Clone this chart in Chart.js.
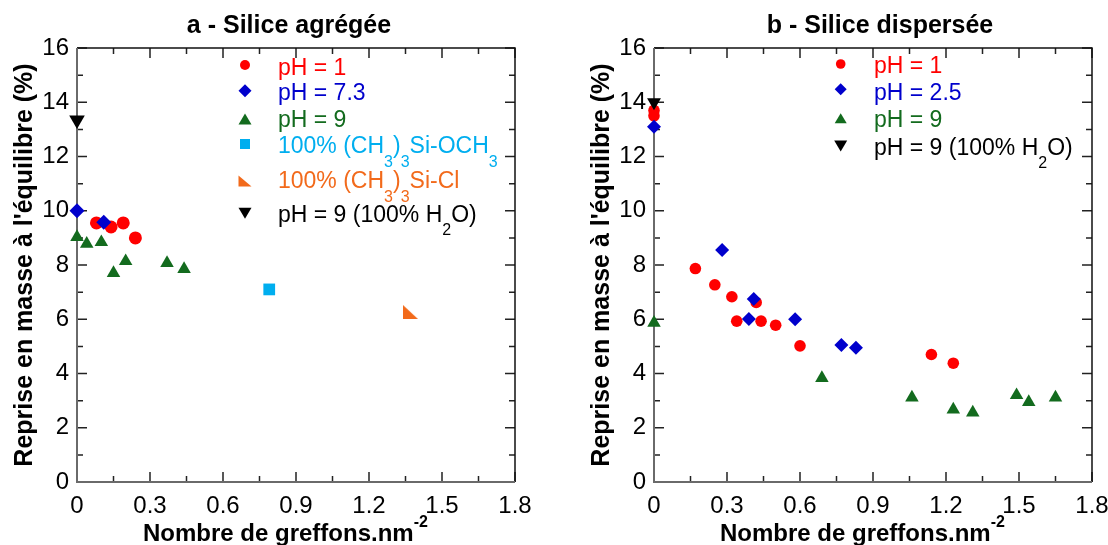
<!DOCTYPE html>
<html>
<head>
    <title>Reprise en masse</title>
    <script src="https://cdn.jsdelivr.net/npm/chart.js"></script>
    <style>
        body { margin: 0; background: #fff; }
        .wrap { position: relative; width: 1108px; height: 545px; overflow: hidden; }
        #chartA { position: absolute; left: 0; top: 0; }
        #chartB { position: absolute; left: 560px; top: 0; }
    </style>
</head>
<body>
    <div class="wrap">
        <canvas id="chartA" width="560" height="545"></canvas>
        <canvas id="chartB" width="548" height="545"></canvas>
    </div>

    <script>
        // a - Silice agrégée
        const aPh1X = [0.08, 0.14, 0.19, 0.24];
        const aPh1Y = [9.55, 9.4, 9.55, 9.0];
        const aPh73X = [0, 0.11];
        const aPh73Y = [10.0, 9.58];
        const aPh9X = [0, 0.04, 0.10, 0.15, 0.20, 0.37, 0.44];
        const aPh9Y = [9.03, 8.78, 8.84, 7.7, 8.14, 8.07, 7.85];
        const aOch3X = [0.79];
        const aOch3Y = [7.1];
        const aClX = [1.37];
        const aClY = [6.27];
        const aH2oX = [0];
        const aH2oY = [13.35];

        // b - Silice dispersée
        const bPh1X = [0, 0, 0.17, 0.25, 0.32, 0.34, 0.42, 0.44, 0.50, 0.60, 1.14, 1.23];
        const bPh1Y = [13.7, 13.5, 7.87, 7.27, 6.83, 5.93, 6.62, 5.93, 5.78, 5.02, 4.70, 4.38];
        const bPh25X = [0, 0.28, 0.39, 0.41, 0.58, 0.77, 0.83];
        const bPh25Y = [13.1, 8.55, 6.01, 6.75, 6.0, 5.05, 4.95];
        const bPh9X = [0, 0.69, 1.06, 1.23, 1.31, 1.49, 1.54, 1.65];
        const bPh9Y = [5.87, 3.83, 3.11, 2.67, 2.56, 3.20, 2.95, 3.11];
        const bH2oX = [0];
        const bH2oY = [14.0];

        // axes
        const xTicks = [0, 0.3, 0.6, 0.9, 1.2, 1.5, 1.8];
        const yTicks = [0, 2, 4, 6, 8, 10, 12, 14, 16];

        const RED = '#ff0000', BLUE = '#0000cc', GREEN = '#136b1e';
        const CYAN = '#00aeef', ORANGE = '#f26a1b', BLACK = '#000000';
        const FONT = '"Liberation Sans", Arial, sans-serif';

        function pts(xs, ys) {
            return xs.map((x, i) => ({ x: x, y: ys[i] }));
        }

        // the ◣ marker, chart.js has no such style
        function cornerMarker(w, h, color) {
            const c = document.createElement('canvas');
            c.width = w; c.height = h;
            const g = c.getContext('2d');
            g.fillStyle = color;
            g.beginPath();
            g.moveTo(0, 0); g.lineTo(0, h); g.lineTo(w, h);
            g.closePath(); g.fill();
            return c;
        }

        function ds(label, data, color, style, radius, order, rotation) {
            return {
                label: label,
                data: data,
                pointStyle: style,
                pointRadius: radius,
                pointRotation: rotation || 0,
                pointBackgroundColor: color,
                pointBorderColor: color,
                pointBorderWidth: 0,
                showLine: false,
                clip: false,
                order: order
            };
        }

        function marker(ctx, kind, x, y, s, color) {
            ctx.fillStyle = color;
            ctx.beginPath();
            if (kind === 'circle') {
                ctx.arc(x, y, s, 0, Math.PI * 2);
            } else if (kind === 'diamond') {
                ctx.moveTo(x, y - s); ctx.lineTo(x + s, y); ctx.lineTo(x, y + s); ctx.lineTo(x - s, y);
            } else if (kind === 'up') {
                ctx.moveTo(x, y - s * 0.42); ctx.lineTo(x + s / 2, y + s * 0.42); ctx.lineTo(x - s / 2, y + s * 0.42);
            } else if (kind === 'down') {
                ctx.moveTo(x, y + s * 0.42); ctx.lineTo(x + s / 2, y - s * 0.42); ctx.lineTo(x - s / 2, y - s * 0.42);
            } else if (kind === 'square') {
                ctx.rect(x - s / 2, y - s / 2, s, s);
            } else if (kind === 'corner') {
                ctx.moveTo(x - s / 2, y - s * 0.42); ctx.lineTo(x - s / 2, y + s * 0.42); ctx.lineTo(x + s / 2, y + s * 0.42);
            }
            ctx.closePath();
            ctx.fill();
        }

        // text with sub / superscript parts
        function richText(ctx, parts, x, y, size, bold, color) {
            ctx.fillStyle = color;
            ctx.textAlign = 'left';
            ctx.textBaseline = 'alphabetic';
            let cx = x;
            parts.forEach(p => {
                const small = p.sub || p.sup;
                const fs = small ? Math.round(size * 0.68) : size;
                ctx.font = (bold ? 'bold ' : '') + fs + 'px ' + FONT;
                const dy = p.sub ? size * 0.58 : (p.sup ? -size * 0.58 : 0);
                ctx.fillText(p.t, cx, y + dy);
                cx += ctx.measureText(p.t).width;
            });
        }

        function makeDeco(cfg) {
            return {
                id: 'deco',
                beforeDatasetsDraw(chart) {
                    const ctx = chart.ctx, a = chart.chartArea;
                    const xs = chart.scales.x, ys = chart.scales.y;
                    ctx.save();
                    ctx.strokeStyle = '#222';
                    ctx.lineWidth = 1.5;
                    ctx.beginPath();
                    for (let v = 0; v <= 16; v++) {
                        const py = ys.getPixelForValue(v);
                        const len = v % 2 === 0 ? 10 : 6;
                        ctx.moveTo(a.left, py); ctx.lineTo(a.left + len, py);
                        ctx.moveTo(a.right, py); ctx.lineTo(a.right - len, py);
                    }
                    for (let i = 0; i <= 12; i++) {
                        const px = xs.getPixelForValue(i * 0.15);
                        const len = i % 2 === 0 ? 10 : 6;
                        ctx.moveTo(px, a.bottom); ctx.lineTo(px, a.bottom - len);
                        ctx.moveTo(px, a.top); ctx.lineTo(px, a.top + len);
                    }
                    ctx.stroke();
                    // frame
                    ctx.beginPath();
                    ctx.strokeStyle = '#111';
                    ctx.moveTo(a.left, a.top); ctx.lineTo(a.right, a.top); ctx.lineTo(a.right, a.bottom);
                    ctx.stroke();
                    ctx.beginPath();
                    ctx.strokeStyle = '#6a6a6a';
                    ctx.lineWidth = 2;
                    ctx.moveTo(a.left, a.top); ctx.lineTo(a.left, a.bottom); ctx.lineTo(a.right, a.bottom);
                    ctx.stroke();
                    ctx.restore();
                },
                afterDraw(chart) {
                    const ctx = chart.ctx, a = chart.chartArea;
                    ctx.save();
                    // title
                    ctx.fillStyle = '#000';
                    ctx.font = 'bold 25px ' + FONT;
                    ctx.textAlign = 'center';
                    ctx.textBaseline = 'alphabetic';
                    ctx.fillText(cfg.title, cfg.titleX, 33);
                    // y title
                    ctx.save();
                    ctx.translate(cfg.yTitleX, (a.top + a.bottom) / 2);
                    ctx.rotate(-Math.PI / 2);
                    ctx.textBaseline = 'middle';
                    ctx.fillText("Reprise en masse à l'équilibre (%)", 0, 0);
                    ctx.restore();
                    // x title
                    richText(ctx, [{ t: 'Nombre de greffons.nm' }, { t: '-2', sup: true }],
                        a.left + 66, 541, 24, true, '#000');
                    // legend
                    cfg.legend.forEach(r => {
                        marker(ctx, r.kind, cfg.markerX, r.my, r.ms, r.color);
                        richText(ctx, r.text, cfg.textX, r.base, 23, false, r.color);
                    });
                    ctx.restore();
                }
            };
        }

        function baseOptions(yWidth, padRight) {
            return {
                responsive: false,
                animation: false,
                devicePixelRatio: 1,
                events: [],
                layout: { padding: { top: 48, right: padRight, left: 0, bottom: 0 } },
                plugins: { legend: { display: false }, tooltip: { enabled: false }, title: { display: false } },
                scales: {
                    x: {
                        type: 'linear', min: 0, max: 1.8,
                        afterBuildTicks: s => { s.ticks = xTicks.map(v => ({ value: v })); },
                        afterFit: s => { s.height = 63; s.paddingLeft = 0; s.paddingRight = 0; },
                        grid: { display: false, drawTicks: false },
                        border: { display: false },
                        ticks: {
                            padding: 10, color: '#000', maxRotation: 0, autoSkip: false,
                            font: { family: FONT, size: 24 },
                            callback: v => v === 0 ? '0' : v.toFixed(1)
                        }
                    },
                    y: {
                        type: 'linear', min: 0, max: 16,
                        afterBuildTicks: s => { s.ticks = yTicks.map(v => ({ value: v })); },
                        afterFit: s => { s.width = yWidth; s.paddingTop = 0; s.paddingBottom = 0; },
                        grid: { display: false, drawTicks: false },
                        border: { display: false },
                        ticks: {
                            padding: 8, color: '#000', autoSkip: false,
                            font: { family: FONT, size: 24 },
                            callback: v => String(v)
                        }
                    }
                }
            };
        }

        const sub3 = { t: '3', sub: true };

        new Chart(document.getElementById('chartA'), {
            type: 'scatter',
            data: {
                datasets: [
                    ds('pH = 1', pts(aPh1X, aPh1Y), RED, 'circle', 6.5, 6),
                    ds('pH = 7.3', pts(aPh73X, aPh73Y), BLUE, 'rectRot', 7.5, 5),
                    ds('pH = 9', pts(aPh9X, aPh9Y), GREEN, 'triangle', 7.8, 4),
                    ds('100% (CH3)3Si-OCH3', pts(aOch3X, aOch3Y), CYAN, 'rect', 8.3, 3),
                    ds('100% (CH3)3Si-Cl', pts(aClX, aClY), ORANGE, cornerMarker(15, 14, ORANGE), 7, 2),
                    ds('pH = 9 (100% H2O)', pts(aH2oX, aH2oY), BLACK, 'triangle', 9, 1, 180)
                ]
            },
            options: baseOptions(77, 45),
            plugins: [makeDeco({
                title: 'a - Silice agrégée', titleX: 289, yTitleX: 25,
                markerX: 245, textX: 278,
                legend: [
                    { kind: 'circle', my: 65, ms: 5, color: RED, base: 74.5, text: [{ t: 'pH = 1' }] },
                    { kind: 'diamond', my: 90.7, ms: 6.5, color: BLUE, base: 100, text: [{ t: 'pH = 7.3' }] },
                    { kind: 'up', my: 119, ms: 13, color: GREEN, base: 127.3, text: [{ t: 'pH = 9' }] },
                    { kind: 'square', my: 144, ms: 10, color: CYAN, base: 153.3,
                      text: [{ t: '100% (CH' }, sub3, { t: ')' }, sub3, { t: 'Si-OCH' }, sub3] },
                    { kind: 'corner', my: 181, ms: 13, color: ORANGE, base: 188.3,
                      text: [{ t: '100% (CH' }, sub3, { t: ')' }, sub3, { t: 'Si-Cl' }] },
                    { kind: 'down', my: 213.3, ms: 13, color: BLACK, base: 221.5,
                      text: [{ t: 'pH = 9 (100% H' }, { t: '2', sub: true }, { t: 'O)' }] }
                ]
            })]
        });

        new Chart(document.getElementById('chartB'), {
            type: 'scatter',
            data: {
                datasets: [
                    ds('pH = 1', pts(bPh1X, bPh1Y), RED, 'circle', 5.8, 4),
                    ds('pH = 2.5', pts(bPh25X, bPh25Y), BLUE, 'rectRot', 7, 3),
                    ds('pH = 9', pts(bPh9X, bPh9Y), GREEN, 'triangle', 7.8, 2),
                    ds('pH = 9 (100% H2O)', pts(bH2oX, bH2oY), BLACK, 'triangle', 8, 1, 180)
                ]
            },
            options: baseOptions(94, 16),
            plugins: [makeDeco({
                title: 'b - Silice dispersée', titleX: 320, yTitleX: 42,
                markerX: 280.7, textX: 314,
                legend: [
                    { kind: 'circle', my: 64, ms: 4.8, color: RED, base: 73.3, text: [{ t: 'pH = 1' }] },
                    { kind: 'diamond', my: 89.3, ms: 6, color: BLUE, base: 100, text: [{ t: 'pH = 2.5' }] },
                    { kind: 'up', my: 118.3, ms: 12, color: GREEN, base: 126.5, text: [{ t: 'pH = 9' }] },
                    { kind: 'down', my: 146, ms: 13, color: BLACK, base: 155,
                      text: [{ t: 'pH = 9 (100% H' }, { t: '2', sub: true }, { t: 'O)' }] }
                ]
            })]
        });
    </script>
</body>
</html>
